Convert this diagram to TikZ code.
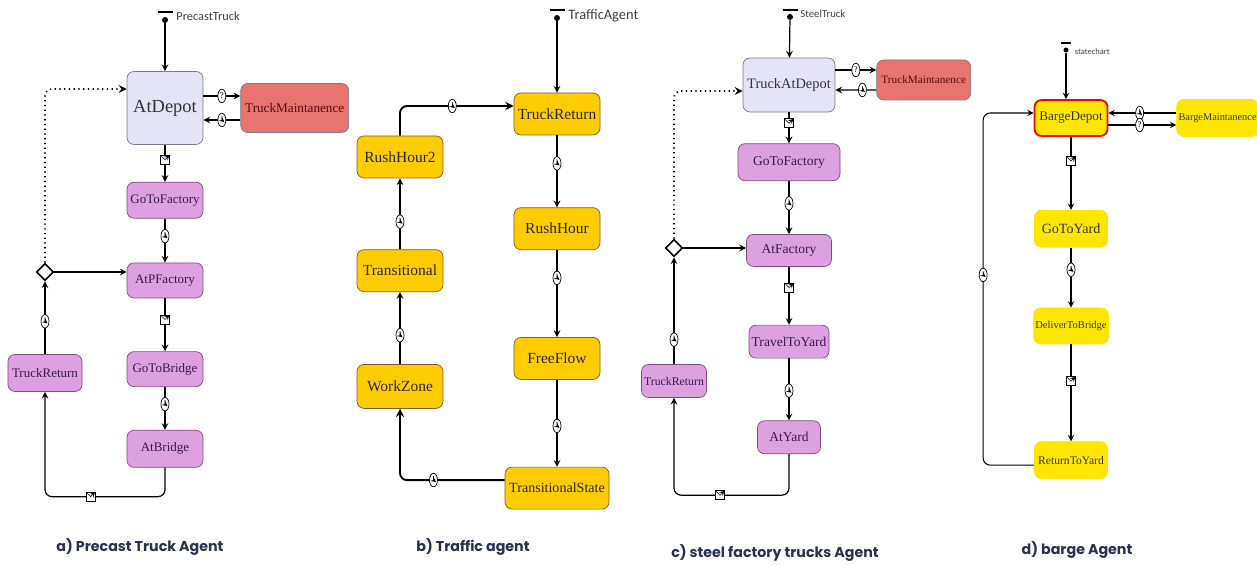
\documentclass[tikz,border=0pt]{standalone}
\usepackage{fontspec}
\setmainfont{Liberation Serif}
\newfontfamily\lblfont{Carlito}
\newfontfamily\capfont{Poppins}
\usetikzlibrary{positioning, arrows, shapes.geometric}
\usepackage{xcolor}
\definecolor{sLavender}{HTML}{E4E4F6}
\definecolor{sRed}{HTML}{E8746F}
\definecolor{sPink}{HTML}{DDA0E0}
\definecolor{sGold}{HTML}{FFCC00}
\definecolor{sYellow}{HTML}{FFE600}
\definecolor{sNavy}{HTML}{2A3050}
\definecolor{sEdge}{HTML}{7A7A8A}
\definecolor{sPurple}{HTML}{3C1A4A}
\definecolor{sDarkRed}{HTML}{5A0A0A}
\tikzset{
  sbox/.style={draw=sEdge, rectangle, rounded corners=4pt, align=center, inner sep=1pt},
  depot/.style={sbox, fill=sLavender, text=black!80},
  maint/.style={sbox, fill=sRed, text=sDarkRed},
  pstate/.style={sbox, fill=sPink, draw=violet!40!gray, text=sPurple, font=\fontsize{7.4}{8}\selectfont},
  tstate/.style={sbox, fill=sGold, draw=brown!70!black, text=black!85, font=\fontsize{8.8}{9}\selectfont, minimum width=1.72cm, minimum height=0.84cm},
  bstate/.style={sbox, draw=sYellow, fill=sYellow, text=black!80, minimum width=1.46cm, minimum height=0.74cm},
  choice/.style={draw, diamond, fill=white, inner sep=0pt, minimum size=0.34cm, line width=0.9pt, sharp corners},
  trans/.style={draw, ->, >=stealth, line width=0.7pt, rounded corners=4pt},
  clk/.style={draw, ellipse, fill=white, inner sep=0pt, minimum width=0.16cm, minimum height=0.27cm, line width=0.4pt, path picture={\draw[line width=0.3pt, sharp corners] (path picture bounding box.center) -- ++(0,0.08) (path picture bounding box.center) -- ++(0.05,-0.04);}},
  msg/.style={draw, rectangle, sharp corners, fill=white, inner sep=0pt, minimum size=0.18cm, line width=0.4pt, path picture={\draw[line width=0.3pt, sharp corners] (path picture bounding box.north west) -- (path picture bounding box.center) -- (path picture bounding box.north east);}},
  cond/.style={draw, ellipse, fill=white, inner sep=0pt, minimum width=0.16cm, minimum height=0.27cm, line width=0.4pt, font=\fontsize{5}{5}\selectfont},
  startdot/.style={circle, fill, inner sep=0pt, minimum size=0.12cm},
  startbar/.style={rectangle, fill, inner sep=0pt, minimum width=0.3cm, minimum height=0.04cm},
  startlbl/.style={font=\lblfont\fontsize{7}{7}\selectfont, text=black!75, inner sep=1pt},
  captext/.style={font=\capfont\bfseries\fontsize{8.1}{9}\selectfont, text=sNavy}
}

\begin{document}
\begin{tikzpicture}
    \useasboundingbox (0,0) rectangle (25.14,-11.30);

    \node[startdot] (starta) at (3.30,-0.40) {};
    \node[startbar, above=0.06cm of starta] (bara) {};
    \node[startlbl, right=0.12cm of starta, yshift=0.08cm] (lbla) {PrecastTruck};
    \node[depot, font=\fontsize{10.5}{11}\selectfont, minimum width=1.52cm, minimum height=1.46cm] (atdepot) at (3.30,-2.16) {AtDepot};
    \node[maint, font=\fontsize{7.5}{8}\selectfont, minimum width=2.16cm, minimum height=0.98cm, right=0.74cm of atdepot] (truckmaint) {TruckMaintanence};
    \node[pstate, minimum width=1.52cm, minimum height=0.72cm, below=0.74cm of atdepot] (gotofactory) {GoToFactory};
    \node[pstate, minimum width=1.52cm, minimum height=0.70cm, below=0.88cm of gotofactory] (atpfactory) {AtPFactory};
    \node[pstate, minimum width=1.52cm, minimum height=0.70cm, below=1.06cm of atpfactory] (gotobridge) {GoToBridge};
    \node[pstate, minimum width=1.52cm, minimum height=0.74cm, below=0.86cm of gotobridge] (atbridge) {AtBridge};
    \node[pstate, minimum width=1.48cm, minimum height=0.74cm] (truckreturn) at (0.90,-7.46) {TruckReturn};
    \node[choice] (choicea) at (0.90,-5.44) {};

    \draw[trans] (starta) -- (atdepot);
    \draw[trans] ([yshift=0.24cm]atdepot.east) -- node[cond]{?} ([yshift=0.24cm]truckmaint.west);
    \draw[trans] ([yshift=-0.24cm]truckmaint.west) -- node[clk]{} ([yshift=-0.24cm]atdepot.east);
    \draw[trans] (atdepot) -- node[msg, pos=0.4]{} (gotofactory);
    \draw[trans] (gotofactory) -- node[clk, pos=0.4]{} (atpfactory);
    \draw[trans] (atpfactory) -- node[msg, pos=0.4]{} (gotobridge);
    \draw[trans] (gotobridge) -- node[clk, pos=0.4]{} (atbridge);
    \draw[trans] (atbridge.south) -- ++(0,-0.58) -| node[msg, pos=0.31]{} (truckreturn);
    \draw[trans] (truckreturn) -- node[clk, pos=0.45]{} (choicea);
    \draw[trans] (choicea) -- (choicea -| atpfactory.west);
    \draw[trans, dotted, line width=1pt] (choicea) |- ([yshift=0.38cm]atdepot.west);

    \node[startdot] (startb) at (11.14,-0.36) {};
    \node[startbar, above=0.06cm of startb] (barb) {};
    \node[startlbl, font=\lblfont\fontsize{8.2}{8}\selectfont, right=0.12cm of startb, yshift=0.04cm] (lblb) {TrafficAgent};
    \node[tstate] (truckreturnb) at (11.14,-2.28) {TruckReturn};
    \node[tstate, below=1.44cm of truckreturnb] (rushhour) {RushHour};
    \node[tstate, below=1.74cm of rushhour] (freeflow) {FreeFlow};
    \node[tstate, minimum width=2.08cm, font=\fontsize{8}{9}\selectfont, below=1.74cm of freeflow] (transstate) {TransitionalState};
    \node[tstate] (rushhour2) at (8.00,-3.14) {RushHour2};
    \node[tstate, below=1.42cm of rushhour2] (transitional) {Transitional};
    \node[tstate, minimum height=0.88cm, below=1.44cm of transitional] (workzone) {WorkZone};

    \draw[trans] (startb) -- (truckreturnb);
    \draw[trans] (truckreturnb) -- node[clk, pos=0.39]{} (rushhour);
    \draw[trans] (rushhour) -- node[clk, pos=0.32]{} (freeflow);
    \draw[trans] (freeflow) -- node[clk, pos=0.53]{} (transstate);
    \draw[trans, line width=1.1pt] ([yshift=0.16cm]transstate.west) -| node[clk, pos=0.34]{} (workzone);
    \draw[trans] (workzone) -- node[clk, pos=0.4]{} (transitional);
    \draw[trans] (transitional) -- node[clk, pos=0.39]{} (rushhour2);
    \draw[trans, line width=1.1pt] (rushhour2) |- node[clk, pos=0.73]{} ([yshift=0.16cm]truckreturnb.west);

    \node[startdot] (startc) at (15.80,-0.34) {};
    \node[startbar, above=0.05cm of startc] (barc) {};
    \node[startlbl, font=\lblfont\fontsize{6.1}{6}\selectfont, right=0.1cm of startc, yshift=0.06cm] (lblc) {SteelTruck};
    \node[depot, font=\fontsize{8.2}{9}\selectfont, minimum width=1.84cm, minimum height=1.08cm] (truckatdepot) at (15.78,-1.70) {TruckAtDepot};
    \node[maint, font=\fontsize{6.4}{7}\selectfont, minimum width=1.88cm, minimum height=0.80cm, right=0.82cm of truckatdepot, yshift=0.10cm] (truckmaintc) {TruckMaintanence};
    \node[pstate, font=\fontsize{7.7}{8}\selectfont, minimum width=2.04cm, minimum height=0.74cm, below=0.62cm of truckatdepot] (gotofactoryc) {GoToFactory};
    \node[pstate, font=\fontsize{7.7}{8}\selectfont, minimum width=1.70cm, minimum height=0.64cm, below=1.06cm of gotofactoryc] (atfactory) {AtFactory};
    \node[pstate, font=\fontsize{7.7}{8}\selectfont, minimum width=1.60cm, minimum height=0.66cm, below=1.16cm of atfactory] (traveltoyard) {TravelToYard};
    \node[pstate, font=\fontsize{7.7}{8}\selectfont, minimum width=1.26cm, minimum height=0.66cm, below=1.24cm of traveltoyard] (atyard) {AtYard};
    \node[pstate, font=\fontsize{6.7}{7}\selectfont, minimum width=1.30cm, minimum height=0.66cm] (truckreturnc) at (13.48,-7.62) {TruckReturn};
    \node[choice] (choicec) at (13.48,-4.96) {};

    \draw[trans] (startc) -- (truckatdepot);
    \draw[trans] ([yshift=0.30cm]truckatdepot.east) -- node[cond]{?} ([yshift=0.20cm]truckmaintc.west);
    \draw[trans] ([yshift=-0.20cm]truckmaintc.west) -- node[clk, pos=0.34]{} ([yshift=-0.10cm]truckatdepot.east);
    \draw[trans] (truckatdepot) -- node[msg, pos=0.35]{} (gotofactoryc);
    \draw[trans] (gotofactoryc) -- node[clk, pos=0.42]{} (atfactory);
    \draw[trans] (atfactory) -- node[msg, pos=0.36]{} (traveltoyard);
    \draw[trans] (traveltoyard) -- node[clk, pos=0.52]{} (atyard);
    \draw[trans] (atyard.south) -- ++(0,-0.82) -| node[msg, pos=0.30]{} (truckreturnc);
    \draw[trans] (truckreturnc) -- node[clk, pos=0.23]{} (choicec);
    \draw[trans] (choicec) -- (choicec -| atfactory.west);
    \draw[trans, dotted, line width=1pt] (choicec) |- ([yshift=-0.12cm]truckatdepot.west);

    \node[startdot, minimum size=0.1cm] (startd) at (21.32,-1.00) {};
    \node[startbar, minimum width=0.2cm, above=0.05cm of startd] (bard) {};
    \node[startlbl, font=\lblfont\fontsize{4.8}{5}\selectfont, right=0.08cm of startd, yshift=-0.04cm] (lbld) {statechart};
    \node[bstate, draw=red, line width=1pt, font=\fontsize{7.5}{8}\selectfont, minimum height=0.72cm] (bargedepot) at (21.42,-2.36) {BargeDepot};
    \node[bstate, font=\fontsize{5.9}{6}\selectfont, minimum width=1.62cm, right=1.36cm of bargedepot] (bargemaint) {BargeMaintanence};
    \node[bstate, font=\fontsize{8}{8}\selectfont, below=1.46cm of bargedepot] (gotoyard) {GoToYard};
    \node[bstate, font=\fontsize{6}{6}\selectfont, minimum height=0.72cm, below=1.20cm of gotoyard] (delivertobridge) {DeliverToBridge};
    \node[bstate, font=\fontsize{6.6}{7}\selectfont, below=1.94cm of delivertobridge] (returntoyard) {ReturnToYard};

    \draw[trans, line width=0.6pt] (startd) -- (startd |- bargedepot.north);
    \draw[trans, line width=0.6pt] ([yshift=0.10cm]bargemaint.west) -- node[clk, pos=0.54]{} ([yshift=0.10cm]bargedepot.east);
    \draw[trans, line width=0.6pt] ([yshift=-0.14cm]bargedepot.east) -- node[cond, pos=0.46]{?} ([yshift=-0.14cm]bargemaint.west);
    \draw[trans, line width=0.6pt] (bargedepot) -- node[msg, pos=0.33]{} (gotoyard);
    \draw[trans, line width=0.6pt] (gotoyard) -- node[clk, pos=0.37]{} (delivertobridge);
    \draw[trans, line width=0.6pt] (delivertobridge) -- node[msg, pos=0.38]{} (returntoyard);
    \draw[trans, line width=0.6pt] ([yshift=-0.10cm]returntoyard.west) -- ++(-1.02,0) |- node[clk, pos=0.27]{} ([yshift=0.10cm]bargedepot.west);

    \node[captext] (capa) at (2.80,-10.94) {a) Precast Truck Agent};
    \node[captext] (capb) at (9.46,-10.94) {b) Traffic agent};
    \node[captext] (capc) at (15.50,-11.06) {c) steel factory trucks Agent};
    \node[captext] (capd) at (21.54,-11.00) {d) barge Agent};
\end{tikzpicture}
\end{document}
